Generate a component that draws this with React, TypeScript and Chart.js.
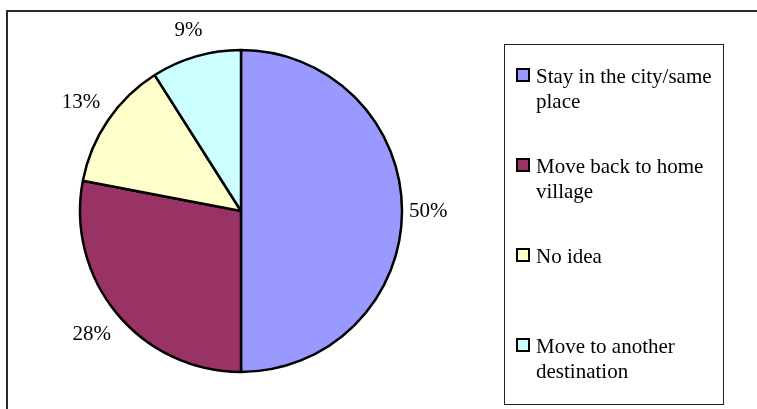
import React, { useEffect, useRef } from "react";
import { Chart, registerables } from "chart.js";

Chart.register(...registerables);

const categories = [
  "Stay in the city/same place",
  "Move back to home village",
  "No idea",
  "Move to another destination",
];
const values = [50, 28, 13, 9];
const colors = ["#9999FF", "#993366", "#FFFFCC", "#CCFFFF"];

const FONT = '"Liberation Serif", "Times New Roman", serif';
const FONT_SIZE = 21;

function wrap(ctx: CanvasRenderingContext2D, text: string, maxW: number): string[] {
  const words = text.split(" ");
  const lines: string[] = [];
  let cur = "";
  for (const w of words) {
    const test = cur ? cur + " " + w : w;
    if (cur && ctx.measureText(test).width > maxW) {
      lines.push(cur);
      cur = w;
    } else {
      cur = test;
    }
  }
  if (cur) lines.push(cur);
  return lines;
}

export default function App() {
  const ref = useRef<HTMLCanvasElement>(null);

  useEffect(() => {
    if (!ref.current) return;

    const framePlugin = {
      id: "frame",
      beforeDraw(chart: any) {
        const ctx = chart.ctx as CanvasRenderingContext2D;
        ctx.save();
        ctx.fillStyle = "#ffffff";
        ctx.fillRect(0, 0, chart.width, chart.height);
        ctx.strokeStyle = "#2a2a2a";
        ctx.lineWidth = 2;
        ctx.beginPath();
        ctx.moveTo(7, chart.height + 2);
        ctx.lineTo(7, 11);
        ctx.lineTo(chart.width + 2, 11);
        ctx.stroke();
        ctx.restore();
      },
    };

    const pctPlugin = {
      id: "pctLabels",
      afterDatasetsDraw(chart: any) {
        const ctx = chart.ctx as CanvasRenderingContext2D;
        const meta = chart.getDatasetMeta(0);
        ctx.save();
        ctx.font = `${FONT_SIZE}px ${FONT}`;
        ctx.fillStyle = "#000";
        ctx.textAlign = "center";
        ctx.textBaseline = "middle";
        meta.data.forEach((arc: any, i: number) => {
          const p = arc.getProps(["x", "y", "startAngle", "endAngle", "outerRadius"], true);
          const mid = (p.startAngle + p.endAngle) / 2;
          const text = `${values[i]}%`;
          const w = ctx.measureText(text).width;
          const c = Math.cos(mid);
          const s = Math.sin(mid);
          const d = p.outerRadius + 7 + Math.abs(c) * (w / 2) + Math.abs(s) * 17;
          ctx.fillText(text, p.x + c * d, p.y + s * d);
        });
        ctx.restore();
      },
    };

    const legendPlugin = {
      id: "boxLegend",
      afterDraw(chart: any) {
        const ctx = chart.ctx as CanvasRenderingContext2D;
        const left = 504.5, top = 44.5, right = 723.5, bottom = 404.5;
        ctx.save();
        ctx.strokeStyle = "#222";
        ctx.lineWidth = 1;
        ctx.strokeRect(left, top, right - left, bottom - top);
        ctx.font = `${FONT_SIZE}px ${FONT}`;
        ctx.textAlign = "left";
        ctx.textBaseline = "alphabetic";
        const labels: string[] = chart.data.labels;
        const bg: string[] = chart.data.datasets[0].backgroundColor;
        labels.forEach((lab, i) => {
          const base = 83 + i * 90;
          ctx.fillStyle = bg[i];
          ctx.fillRect(517, base - 14, 12, 12);
          ctx.strokeStyle = "#000";
          ctx.lineWidth = 2;
          ctx.strokeRect(517, base - 14, 12, 12);
          ctx.fillStyle = "#000";
          const lines = wrap(ctx, lab, 184);
          lines.forEach((ln, j) => ctx.fillText(ln, 536, base + j * 25));
        });
        ctx.restore();
      },
    };

    const chart = new Chart(ref.current, {
      type: "pie",
      data: {
        labels: categories,
        datasets: [
          {
            data: values,
            backgroundColor: colors,
            borderColor: "#000",
            borderWidth: 2.5,
            hoverOffset: 0,
          },
        ],
      },
      options: {
        animation: false,
        responsive: false,
        radius: 161,
        layout: { padding: { left: 40, right: 315, top: 30, bottom: 17 } },
        plugins: {
          legend: { display: false },
          tooltip: { enabled: false },
        },
      } as any,
      plugins: [framePlugin, pctPlugin, legendPlugin],
    });
    return () => chart.destroy();
  }, []);

  return (
    <div style={{ position: "absolute", left: 0, top: 0, width: 757, height: 409, background: "#fff" }}>
      <canvas ref={ref} width={757} height={409} style={{ display: "block" }} />
    </div>
  );
}
